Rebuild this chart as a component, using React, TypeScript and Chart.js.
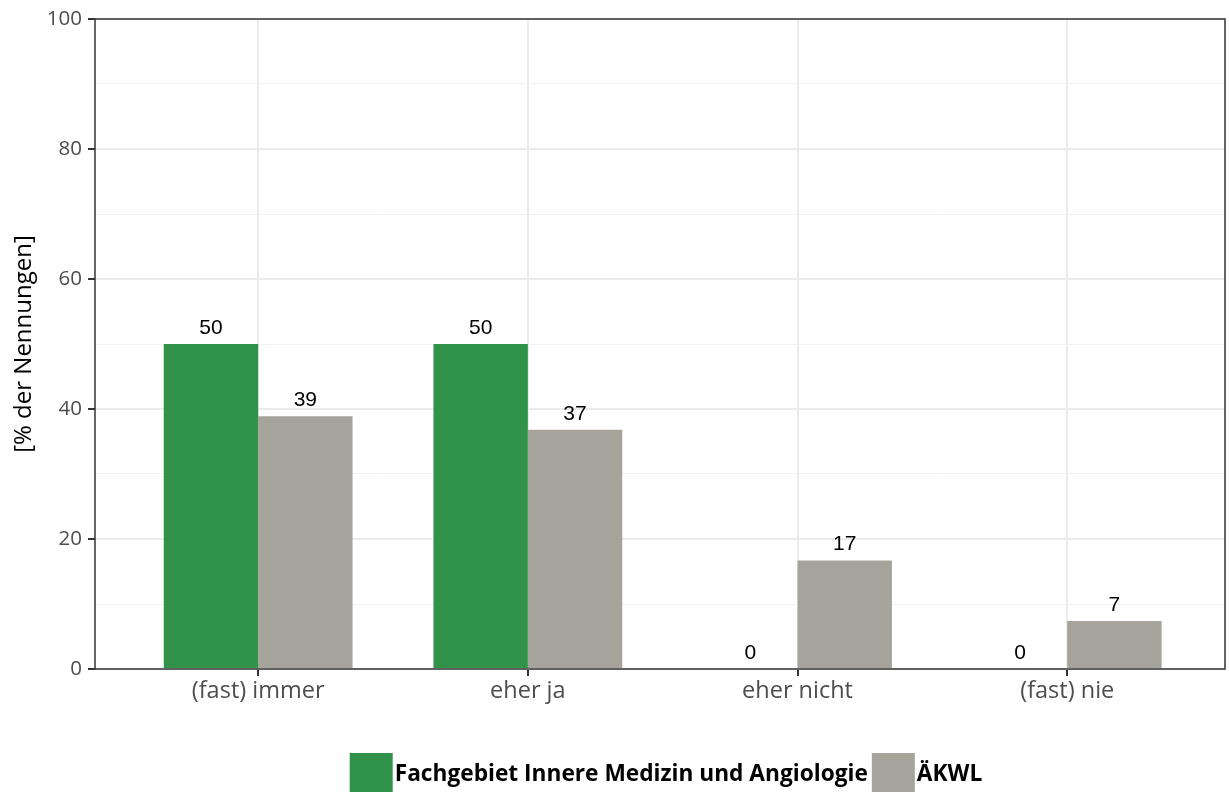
import React, { useEffect, useRef } from "react";
import { Chart, registerables } from "chart.js";

Chart.register(...registerables);

const categories = ["(fast) immer", "eher ja", "eher nicht", "(fast) nie"];
const fachgebietValues = [50, 50, 0, 0];
const aekwlValues = [38.9, 36.8, 16.7, 7.4];
const seriesNames = ["Fachgebiet Innere Medizin und Angiologie", "ÄKWL"];
const seriesColors = ["#31924a", "#a6a39b"];

const valueLabelPlugin = {
  id: "valueLabels",
  afterDatasetsDraw(chart: any) {
    const ctx = chart.ctx;
    ctx.save();
    ctx.font = '21px "Liberation Sans", Arial, sans-serif';
    ctx.fillStyle = "#000";
    ctx.textAlign = "center";
    ctx.textBaseline = "alphabetic";
    chart.data.datasets.forEach((ds: any, di: number) => {
      const meta = chart.getDatasetMeta(di);
      meta.data.forEach((bar: any, i: number) => {
        const v = ds.data[i].y;
        ctx.fillText(String(Math.round(v)), bar.x, bar.y - 10);
      });
    });
    ctx.restore();
  },
};

const borderPlugin = {
  id: "panelBorder",
  afterDatasetsDraw(chart: any) {
    const { left, top, right, bottom } = chart.chartArea;
    const ctx = chart.ctx;
    ctx.save();
    ctx.strokeStyle = "#333333";
    ctx.lineWidth = 1.5;
    ctx.strokeRect(left, top, right - left, bottom - top);
    ctx.restore();
  },
};

const legendPlugin = {
  id: "customLegend",
  afterDraw(chart: any) {
    const ctx = chart.ctx;
    ctx.save();
    ctx.font = 'bold 22.7px "Open Sans", sans-serif';
    const boxW = 43;
    const boxH = 40;
    const textGap = 2;
    const itemGap = 4;
    const widths = seriesNames.map((n) => ctx.measureText(n).width);
    const total = widths.reduce((a, w) => a + boxW + textGap + w, 0) + itemGap * (seriesNames.length - 1);
    let x = 666 - total / 2;
    const boxY = 753;
    ctx.textBaseline = "middle";
    ctx.textAlign = "left";
    seriesNames.forEach((n, i) => {
      ctx.fillStyle = seriesColors[i];
      ctx.fillRect(x, boxY, boxW, boxH);
      x += boxW + textGap;
      ctx.fillStyle = "#000";
      ctx.fillText(n, x, boxY + 22);
      x += widths[i] + itemGap;
    });
    ctx.restore();
  },
};

export default function App() {
  const ref = useRef<HTMLCanvasElement | null>(null);

  useEffect(() => {
    if (!ref.current) return;
    const chart = new Chart(ref.current, {
      type: "bar",
      data: {
        datasets: [
          {
            label: seriesNames[0],
            data: categories.map((_, i) => ({ x: i + 1, y: fachgebietValues[i] })),
            backgroundColor: seriesColors[0],
          },
          {
            label: seriesNames[1],
            data: categories.map((_, i) => ({ x: i + 1, y: aekwlValues[i] })),
            backgroundColor: seriesColors[1],
          },
        ],
      },
      options: {
        animation: false,
        responsive: true,
        maintainAspectRatio: false,
        layout: { padding: { left: 0, top: 19, right: 4, bottom: 73 } },
        datasets: { bar: { categoryPercentage: 0.7, barPercentage: 1 } },
        plugins: {
          legend: { display: false },
          tooltip: { enabled: false },
        },
        scales: {
          x: {
            type: "linear",
            min: 0.395,
            max: 4.585,
            offset: false,
            afterBuildTicks(scale: any) {
              scale.ticks = categories.map((_, i) => ({ value: i + 1 }));
            },
            afterFit(scale: any) {
              scale.height = 50;
            },
            ticks: {
              callback: (v: any) => categories[Math.round(v) - 1] ?? "",
              color: "#4d4d4d",
              font: { family: '"Open Sans", sans-serif', size: 23.5 },
              padding: 1,
              maxRotation: 0,
              autoSkip: false,
            },
            grid: {
              offset: false,
              color: "#ebebeb",
              lineWidth: 2,
              tickColor: "#333333",
              tickWidth: 2,
              tickLength: 7,
            },
            border: { display: false },
          },
          y: {
            min: 0,
            max: 100,
            ticks: {
              stepSize: 10,
              callback: (v: any) => (v % 20 === 0 ? String(v) : ""),
              color: "#4d4d4d",
              font: { family: '"Open Sans", sans-serif', size: 20.5 },
              padding: 6,
            },
            afterFit(scale: any) {
              scale.width = 95;
            },
            grid: {
              color: (c: any) => (c.tick && c.tick.value % 20 === 0 ? "#ebebeb" : "#f2f2f2"),
              lineWidth: (c: any) => (c.tick && c.tick.value % 20 === 0 ? 2 : 1),
              tickColor: (c: any) => (c.tick && c.tick.value % 20 === 0 ? "#333333" : "rgba(0,0,0,0)"),
              tickWidth: 2,
              tickLength: 7,
            },
            border: { display: false },
            title: {
              display: true,
              text: "[% der Nennungen]",
              color: "#000",
              font: { family: '"Open Sans", sans-serif', size: 24 },
              padding: { top: 10, bottom: 0 },
            },
          },
        },
      },
      plugins: [valueLabelPlugin, borderPlugin, legendPlugin],
    } as any);
    return () => chart.destroy();
  }, []);

  return (
    <div style={{ position: "absolute", left: 0, top: 0, width: 1229, height: 792 }}>
      <canvas ref={ref} />
    </div>
  );
}
